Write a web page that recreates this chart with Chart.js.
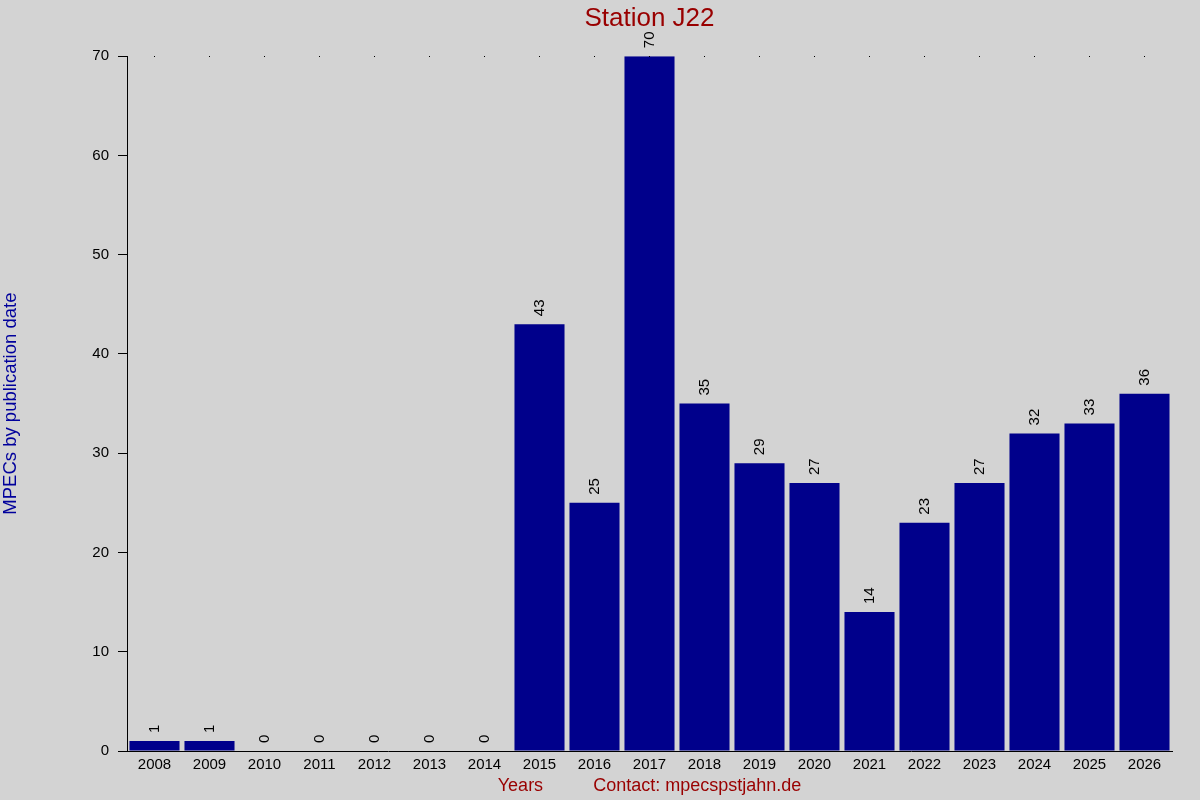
<!DOCTYPE html>
<html>
<head>
<meta charset="utf-8">
<title>Station J22</title>
<script src="https://cdn.jsdelivr.net/npm/chart.js@4/dist/chart.umd.min.js"></script>
<style>
  body { margin: 0; background: #d3d3d3; }
  #grafico { display: block; }
</style>
</head>
<body>
<canvas id="grafico" width="1200" height="800"></canvas>
<script>
const anos = ['2008', '2009', '2010', '2011', '2012', '2013', '2014', '2015', '2016', '2017',
  '2018', '2019', '2020', '2021', '2022', '2023', '2024', '2025', '2026'];
const mpecs = [1, 1, 0, 0, 0, 0, 0, 43, 25, 70, 35, 29, 27, 14, 23, 27, 32, 33, 36];
const yTicks = [0, 10, 20, 30, 40, 50, 60, 70];

const fonte = 'Liberation Sans, Arial, sans-serif';

// numeros girados em cima das barras
const rotulos = {
  id: 'rotulos',
  afterDatasetsDraw(chart) {
    const c = chart.ctx;
    const meta = chart.getDatasetMeta(0);
    c.save();
    c.fillStyle = '#000';
    c.font = '15px ' + fonte;
    c.textAlign = 'left';
    c.textBaseline = 'middle';
    meta.data.forEach((bar, i) => {
      c.save();
      c.translate(bar.x, bar.y - 8);
      c.rotate(-Math.PI / 2);
      c.fillText(String(mpecs[i]), 0, 0);
      c.restore();
    });
    // pontinhos no topo
    const xs = chart.scales.x;
    const topo = Math.round(chart.chartArea.top);
    xs.ticks.forEach((t, i) => {
      const x = Math.floor(xs.getPixelForTick(i));
      c.fillRect(x, topo, 1, 1);
    });
    c.restore();
  }
};

new Chart(document.getElementById('grafico'), {
  type: 'bar',
  data: {
    labels: anos,
    datasets: [{
      label: 'MPECs',
      data: mpecs,
      backgroundColor: '#00008b',
      borderWidth: 0,
      categoryPercentage: 1,
      barPercentage: 0.91
    }]
  },
  options: {
    responsive: false,
    animation: false,
    devicePixelRatio: 1,
    layout: { padding: { left: 0, right: 28, top: 0, bottom: 0 } },
    plugins: {
      legend: { display: false },
      tooltip: { enabled: false },
      title: {
        display: true,
        fullSize: false,
        text: 'Station J22',
        color: '#990000',
        font: { family: fonte, size: 26, weight: 'normal' },
        padding: { top: 3, bottom: 22 }
      }
    },
    scales: {
      x: {
        grid: { display: false },
        border: { display: true, color: '#000', width: 1 },
        ticks: { color: '#000', font: { family: fonte, size: 15 }, padding: -3, maxRotation: 0, autoSkip: false },
        title: {
          display: true,
          text: 'Years          Contact: mpecspstjahn.de',
          color: '#990000',
          font: { family: fonte, size: 18 },
          padding: { top: 0, bottom: 3 }
        },
        afterFit(scale) { scale.height = 49; }
      },
      y: {
        min: 0,
        max: 70,
        afterBuildTicks(scale) { scale.ticks = yTicks.map(v => ({ value: v })); },
        grid: { drawOnChartArea: false, drawTicks: true, tickLength: 9, color: '#000' },
        border: { display: true, color: '#000', width: 1 },
        ticks: { color: '#000', font: { family: fonte, size: 15 }, padding: 9 },
        title: {
          display: true,
          text: 'MPECs by publication date',
          color: '#00009c',
          font: { family: fonte, size: 18.5 },
          padding: 0
        },
        afterFit(scale) { scale.width = 127; }
      }
    }
  },
  plugins: [rotulos]
});
</script>
</body>
</html>
